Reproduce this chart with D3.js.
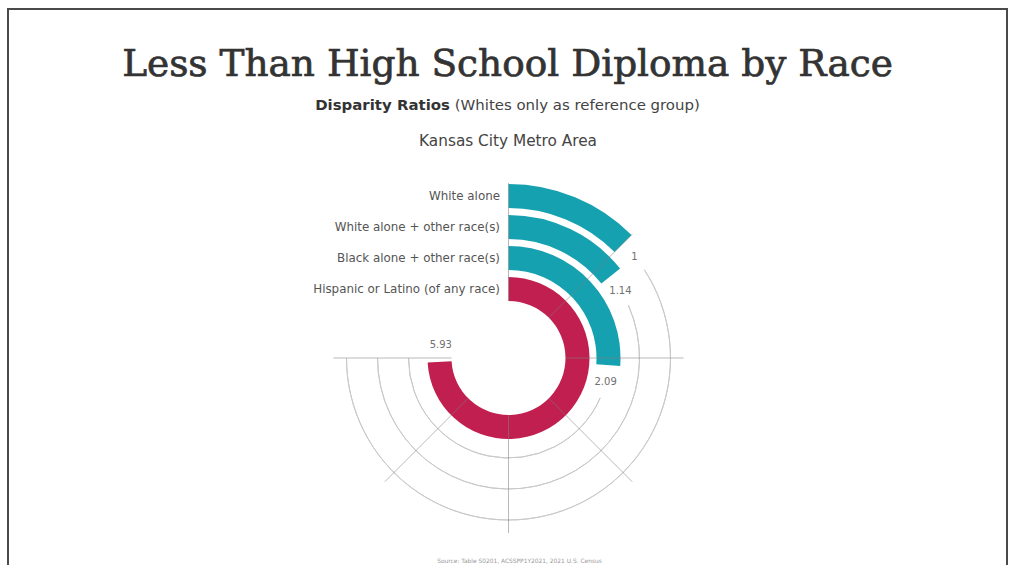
<!DOCTYPE html>
<html>
<head>
<meta charset="utf-8">
<script src="https://cdn.jsdelivr.net/npm/d3@7"></script>
<style>
  html, body { margin: 0; padding: 0; background: #fff; }
  svg { display: block; }
</style>
</head>
<body>
<svg id="chart" width="1011" height="565"></svg>
<script>
// Disparity ratios, Whites only as the reference group
const categories = [
  "White alone",
  "White alone + other race(s)",
  "Black alone + other race(s)",
  "Hispanic or Latino (of any race)"
];
const ratios = [1, 1.14, 2.09, 5.93];
const valueLabels = ["1", "1.14", "2.09", "5.93"];
const barColors = ["#16a1b1", "#16a1b1", "#16a1b1", "#c01f4f"];
const gridTicks = [0, 1, 2, 3, 4, 5, 6];

const W = 1011, H = 565;
const cx = 508.5, cy = 358;
const innerR = 57, outerR = 174, gridR = 175;

const svg = d3.select("#chart");

// page frame
svg.append("rect")
  .attr("x", 8).attr("y", 9)
  .attr("width", 999).attr("height", 600)
  .attr("fill", "none")
  .attr("stroke", "#4a4a4a")
  .attr("stroke-width", 2);

const sans = "'DejaVu Sans', 'Noto Sans', sans-serif";

// shrink or grow a text node's font so it spans a given width
function fitWidth(sel, width) {
  const node = sel.node();
  const fs = parseFloat(sel.attr("font-size"));
  const w = node.getComputedTextLength();
  sel.attr("font-size", (fs * width / w).toFixed(2));
}

const title = svg.append("text")
  .attr("x", 507.5).attr("y", 76)
  .attr("text-anchor", "middle")
  .attr("font-family", "'DejaVu Serif', 'Liberation Serif', serif")
  .attr("font-size", 36)
  .attr("fill", "#333")
  .attr("stroke", "#333")
  .attr("stroke-width", 0.7)
  .text("Less Than High School Diploma by Race");
fitWidth(title, 771);

const sub = svg.append("text")
  .attr("x", 507.5).attr("y", 110)
  .attr("text-anchor", "middle")
  .attr("font-family", sans)
  .attr("font-size", 15)
  .attr("fill", "#333");
sub.append("tspan").attr("font-weight", "bold").text("Disparity Ratios");
sub.append("tspan").attr("fill", "#444").text(" (Whites only as reference group)");
fitWidth(sub, 385);

const area = svg.append("text")
  .attr("x", 508).attr("y", 146)
  .attr("text-anchor", "middle")
  .attr("font-family", sans)
  .attr("font-size", 15)
  .attr("fill", "#444")
  .text("Kansas City Metro Area");
fitWidth(area, 178);

const source = svg.append("text")
  .attr("x", 519.5).attr("y", 563)
  .attr("text-anchor", "middle")
  .attr("font-family", sans)
  .attr("font-size", 6)
  .attr("fill", "#9a9a9a")
  .text("Source: Table S0201, ACSSPP1Y2021, 2021 U.S. Census");
fitWidth(source, 165);

// scales: ratio -> angle (clockwise from 12 o'clock), category -> ring
const angle = d3.scaleLinear().domain([0, 6]).range([0, 1.5 * Math.PI]);
const ring = d3.scaleBand().domain(categories).range([outerR, innerR]).paddingInner(7 / 31);
const bw = ring.bandwidth();
const mid = c => ring(c) + bw / 2;

const g = svg.append("g").attr("transform", `translate(${cx},${cy})`);

const rows = categories.map((c, i) => ({ cat: c, value: ratios[i], label: valueLabels[i], color: barColors[i] }));

// remaining track after each value label
const track = d3.arc();
g.selectAll("path.track")
  .data(rows.filter(d => angle(d.value) + 34 / mid(d.cat) < angle.range()[1]))
  .join("path")
  .attr("class", "track")
  .attr("d", d => track({
    innerRadius: mid(d.cat), outerRadius: mid(d.cat),
    startAngle: angle(d.value) + 34 / mid(d.cat),
    endAngle: angle.range()[1]
  }))
  .attr("fill", "none")
  .attr("stroke", "#c9c9c9")
  .attr("stroke-width", 1);

// bars
const arc = d3.arc()
  .innerRadius(d => ring(d.cat))
  .outerRadius(d => ring(d.cat) + bw)
  .startAngle(0)
  .endAngle(d => angle(d.value));

g.selectAll("path.bar")
  .data(rows)
  .join("path")
  .attr("class", "bar")
  .attr("d", arc)
  .attr("fill", d => d.color);

// radial grid lines, drawn over the bars
g.selectAll("line.grid")
  .data(gridTicks)
  .join("line")
  .attr("class", "grid")
  .attr("x1", t => innerR * Math.sin(angle(t)))
  .attr("y1", t => -innerR * Math.cos(angle(t)))
  .attr("x2", t => gridR * Math.sin(angle(t)))
  .attr("y2", t => -gridR * Math.cos(angle(t)))
  .attr("stroke", "#808080")
  .attr("stroke-opacity", 0.55)
  .attr("stroke-width", 1);

// value labels just past the end of each bar
g.selectAll("text.value")
  .data(rows)
  .join("text")
  .attr("class", "value")
  .attr("x", d => mid(d.cat) * Math.sin(angle(d.value) + 17 / mid(d.cat)))
  .attr("y", d => -mid(d.cat) * Math.cos(angle(d.value) + 17 / mid(d.cat)))
  .attr("text-anchor", "middle")
  .attr("dominant-baseline", "central")
  .attr("font-family", sans)
  .attr("font-size", 10)
  .attr("fill", "#707070")
  .text(d => d.label);

// category labels at the start of each ring
g.selectAll("text.cat")
  .data(rows)
  .join("text")
  .attr("class", "cat")
  .attr("x", -8.5)
  .attr("y", d => -mid(d.cat))
  .attr("text-anchor", "end")
  .attr("dominant-baseline", "central")
  .attr("font-family", sans)
  .attr("font-size", 12)
  .attr("fill", "#555")
  .text(d => d.cat);

// keep the longest category label at its measured width
const longest = g.selectAll("text.cat").filter(d => d.cat.startsWith("Hispanic"));
const scaleF = 187 / longest.node().getComputedTextLength();
g.selectAll("text.cat").attr("font-size", (12 * scaleF).toFixed(2));
</script>
</body>
</html>
